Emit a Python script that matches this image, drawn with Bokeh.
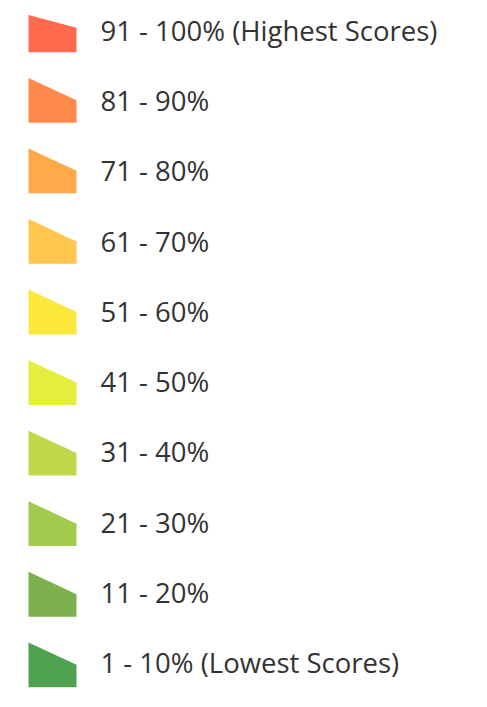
from bokeh.plotting import figure
from bokeh.models import Range1d, ColumnDataSource
from bokeh.core.properties import value
from bokeh.embed import file_html
from bokeh.resources import INLINE

labels = ["91 - 100% (Highest Scores)", "81 - 90%", "71 - 80%", "61 - 70%", "51 - 60%",
          "41 - 50%", "31 - 40%", "21 - 30%", "11 - 20%", "1 - 10% (Lowest Scores)"]
colors = ["#FF6A4E", "#FF8A4B", "#FFA94B", "#FFC64D", "#FBE83B",
          "#E4EF3D", "#C2D84A", "#A2CA4D", "#7CB14D", "#4FA04F"]

W, H = 471, 691
p = figure(width=W, height=H, output_backend="svg", toolbar_location=None,
           x_range=Range1d(0, W), y_range=Range1d(709, 0),
           min_border=0, outline_line_color=None)
p.axis.visible = False
p.grid.visible = False
p.background_fill_color = "white"
p.border_fill_color = "white"

step = 72.4
xs, ys, tx, ty = [], [], [], []
for i in range(len(labels)):
    bottom = 53 + i * step
    top = bottom - 46 if i > 0 else bottom - 38
    right_top = bottom - 23 if i > 0 else bottom - 25
    xs.append([28, 76, 76, 28])
    ys.append([top, right_top, bottom, bottom])
    tx.append(100)
    ty.append(30.5 + i * 72.1)

src = ColumnDataSource(dict(xs=xs, ys=ys, color=colors))
p.patches("xs", "ys", source=src, fill_color="color", line_color=None)

tsrc = ColumnDataSource(dict(x=tx, y=ty, text=labels))
p.text("x", "y", text="text", source=tsrc, text_font=value("Open Sans"),
       text_font_size="27.5px", text_color="#333333", text_baseline="middle")

open("out.html", "w").write(file_html(p, INLINE))
